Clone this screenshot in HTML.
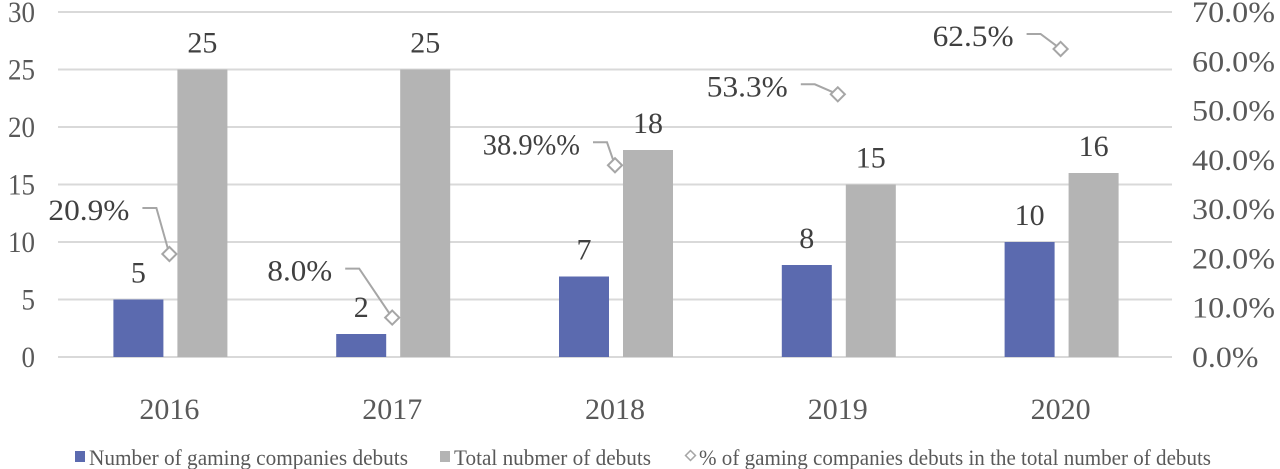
<!DOCTYPE html>
<html><head><meta charset="utf-8"><style>
html,body{margin:0;padding:0;background:#fff;}
svg{display:block;font-family:"Liberation Serif",serif;}
</style></head><body>
<svg id="chart" width="1280" height="469" viewBox="0 0 1280 469"></svg>
<script>
const categories = ["2016","2017","2018","2019","2020"];
const gamingDebuts = [5,2,7,8,10];
const totalDebuts = [25,25,18,15,16];
const pctValues = [20.9,8.0,38.9,53.3,62.5];
const pctLabels = ["20.9%","8.0%","38.9%%","53.3%","62.5%"];
const leftTicks = [0,5,10,15,20,25,30];
const rightTicks = ["0.0%","10.0%","20.0%","30.0%","40.0%","50.0%","60.0%","70.0%"];

const NS="http://www.w3.org/2000/svg";
const svg=document.getElementById('chart');
const plotL=58, plotR=1172, y0=357, yTop=12;
const yL=v=>y0-(v/30)*(y0-yTop);
const yR=v=>y0-(v/70)*(y0-yTop);
const band=(plotR-plotL)/categories.length;
const xc=i=>plotL+band*(i+0.5);
const leaderDX=[-13,-33,-8,-23,-20];
const leaderDY=[-46,-49,-23,-10,-15];
function mk(tag,attrs,txt){const e=document.createElementNS(NS,tag);for(const k in attrs)e.setAttribute(k,attrs[k]);if(txt!==undefined)e.textContent=txt;svg.appendChild(e);return e;}

leftTicks.forEach((t,i)=>{
  const g=mk('line',{x1:plotL,x2:plotR,y1:yL(t),y2:yL(t),stroke:'#d9d9d9','stroke-width':2});
  
  
  const s=String(t);
  const l=mk('text',{x:35,y:yL(t)+10,'text-anchor':'end','font-size':30,fill:'#595959',textLength:s.length*13.5,lengthAdjust:'spacingAndGlyphs'},s);
  
  
});
rightTicks.forEach((t,i)=>{
  const l=mk('text',{x:1192,y:yR(i*10)+10,'font-size':30,fill:'#595959',textLength:t.length*16.6,lengthAdjust:'spacingAndGlyphs'},t);
  
  
});
categories.forEach((c,i)=>{
  const l=mk('text',{x:xc(i),y:419,'text-anchor':'middle','font-size':30,fill:'#595959',textLength:60,lengthAdjust:'spacingAndGlyphs'},c);
  
  
  const bw=50;
  const b1=mk('rect',{x:xc(i)-56,y:yL(gamingDebuts[i]),width:bw,height:y0-yL(gamingDebuts[i]),fill:'#5b6aaf'});
  
  
  const s1=String(gamingDebuts[i]);
  const v1=mk('text',{x:xc(i)-31,y:yL(gamingDebuts[i])-17,'text-anchor':'middle','font-size':30,fill:'#404040',textLength:s1.length*15,lengthAdjust:'spacingAndGlyphs'},s1);
  
  
  const b2=mk('rect',{x:xc(i)+8,y:yL(totalDebuts[i]),width:bw,height:y0-yL(totalDebuts[i]),fill:'#b4b4b4'});
  
  
  const s2=String(totalDebuts[i]);
  const v2=mk('text',{x:xc(i)+33,y:yL(totalDebuts[i])-17,'text-anchor':'middle','font-size':30,fill:'#404040',textLength:s2.length*15,lengthAdjust:'spacingAndGlyphs'},s2);
  
  
  const px=xc(i), py=yR(pctValues[i]);
  const lx=px+leaderDX[i], ly=py+leaderDY[i];
  const ld=mk('polyline',{points:`${lx-14},${ly} ${lx},${ly} ${px},${py}`,fill:'none',stroke:'#a6a6a6','stroke-width':2});
  
  
  const d=mk('rect',{x:px-5,y:py-5,width:10,height:10,fill:'#fff',stroke:'#a6a6a6','stroke-width':2,transform:`rotate(45 ${px} ${py})`});
  
  
  const pl=mk('text',{x:lx-27,y:ly+12,'text-anchor':'end','font-size':30,fill:'#404040',textLength:pctLabels[i].length*16.2,lengthAdjust:'spacingAndGlyphs'},pctLabels[i]);
  
  
});
const lg=[{x:75,t:"Number of gaming companies debuts",w:319,c:'#5b6aaf'},{x:440,t:"Total nubmer of debuts",w:197,c:'#b4b4b4'},{x:685,t:"% of gaming companies debuts in the total number of debuts",w:512,c:null}];
lg.forEach(o=>{
  if(o.c){const s=mk('rect',{x:o.x,y:451,width:10,height:11,fill:o.c});
    
    }
  else{const s=mk('rect',{x:o.x+2,y:452,width:7,height:7,fill:'#fff',stroke:'#a6a6a6','stroke-width':1.5,transform:`rotate(45 ${o.x+5.5} 455.5)`});
    
    }
  const t=mk('text',{x:o.x+14,y:465,'font-size':22,fill:'#595959',textLength:o.w,lengthAdjust:'spacingAndGlyphs'},o.t);
  
  
});
</script>
</body></html>
